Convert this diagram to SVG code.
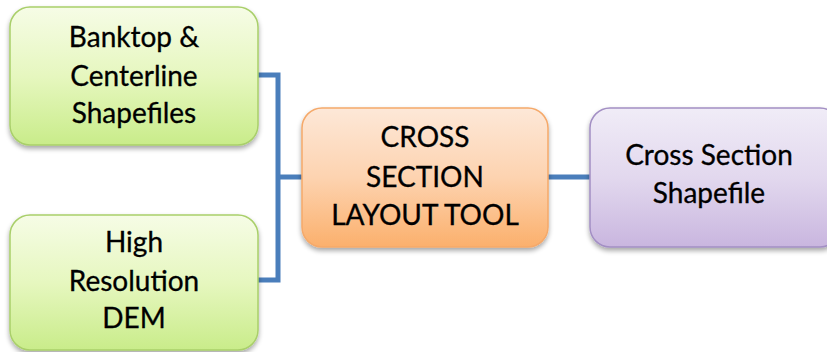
<svg xmlns="http://www.w3.org/2000/svg" width="827" height="352" viewBox="0 0 827 352">
<defs>
<linearGradient id="gGreen" x1="0" y1="0" x2="0" y2="1"><stop offset="0" stop-color="#f6fce6"/><stop offset="0.5" stop-color="#e6f7bf"/><stop offset="1" stop-color="#c9ec8a"/></linearGradient>
<linearGradient id="gOrange" x1="0" y1="0" x2="0" y2="1"><stop offset="0" stop-color="#fde8d8"/><stop offset="0.5" stop-color="#fdd3b0"/><stop offset="1" stop-color="#fbb06c"/></linearGradient>
<linearGradient id="gPurple" x1="0" y1="0" x2="0" y2="1"><stop offset="0" stop-color="#f0ecf7"/><stop offset="0.5" stop-color="#e2d8ee"/><stop offset="1" stop-color="#c9b6df"/></linearGradient>
<filter id="sh" x="-10%" y="-10%" width="120%" height="130%"><feGaussianBlur in="SourceAlpha" stdDeviation="2.5"/><feOffset dx="0" dy="3" result="b"/><feComponentTransfer><feFuncA type="linear" slope="0.35"/></feComponentTransfer><feMerge><feMergeNode/><feMergeNode in="SourceGraphic"/></feMerge></filter>
</defs>
<style>
.t{font-family:Lato,"Open Sans","Liberation Sans",sans-serif;font-size:28px;fill:#000;text-anchor:middle;stroke:#000;stroke-width:0.3}
.green{fill:url(#gGreen);stroke:#a9cf6a;stroke-width:1.5}
.orange{fill:url(#gOrange);stroke:#f5a96a;stroke-width:1.5}
.purple{fill:url(#gPurple);stroke:#a38fc4;stroke-width:1.5}
.c{fill:none;stroke:#4a7ebb;stroke-width:5}
</style>
<rect width="827" height="352" fill="#fff"/>
<g id="connectors">
<polyline class="c" points="258,75 278,75 278,280 258,280"/>
<line class="c" x1="278" y1="177" x2="302" y2="177"/>
<line class="c" x1="548" y1="177" x2="590" y2="177"/>
</g>
<g id="banktop">
<rect class="green" x="10" y="7" width="248" height="138" rx="20" filter="url(#sh)"/>
<text class="t" x="134" y="47">Banktop &amp;</text>
<text class="t" x="134" y="86">Centerline</text>
<text class="t" x="134" y="123">Shapefiles</text>
</g>
<g id="dem">
<rect class="green" x="10" y="215" width="248" height="135" rx="20" filter="url(#sh)"/>
<text class="t" x="134" y="252">High</text>
<text class="t" x="134" y="291">Resolution</text>
<text class="t" x="134" y="328">DEM</text>
</g>
<g id="tool">
<rect class="orange" x="302" y="108" width="246" height="139" rx="20" filter="url(#sh)"/>
<text class="t" x="425" y="147">CROSS</text>
<text class="t" x="425" y="187">SECTION</text>
<text class="t" x="425" y="225">LAYOUT TOOL</text>
</g>
<g id="output">
<rect class="purple" x="590" y="108" width="250" height="139" rx="20" filter="url(#sh)"/>
<text class="t" x="709" y="165">Cross Section</text>
<text class="t" x="709" y="203">Shapefile</text>
</g>
</svg>
